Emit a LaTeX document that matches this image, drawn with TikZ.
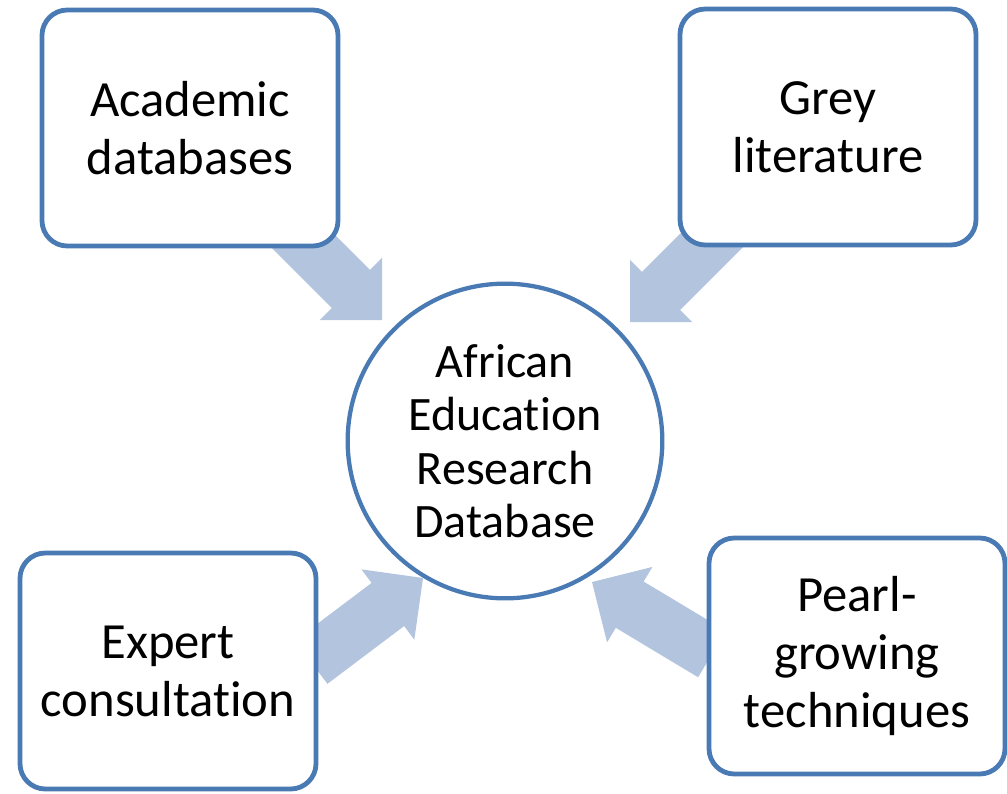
\documentclass[tikz,border=0pt]{standalone}
\usepackage{fontspec}
\setmainfont{Carlito}[Ligatures={NoCommon}]
\definecolor{boxblue}{RGB}{74,122,180}
\definecolor{arrowfill}{RGB}{179,196,223}
\begin{document}
\begin{tikzpicture}[x=0.75pt,y=-0.75pt,
  srcbox/.style={draw=boxblue,line width=3.6pt,fill=white,rounded corners=19pt,
    minimum width=222pt,minimum height=177pt,align=center,
    font=\fontsize{38}{43.5}\selectfont,inner sep=0pt},
  hub/.style={circle,draw=boxblue,line width=3.2pt,fill=white,minimum size=236pt,
    align=center,font=\fontsize{36}{40}\selectfont,inner sep=0pt},
  blockarrow/.style={fill=arrowfill}]
\useasboundingbox (0,0) rectangle (1007,793);
% arrow tips
\coordinate (tipA) at (382,320);
\coordinate (tipG) at (630,322);
\coordinate (tipE) at (423,578);
\coordinate (tipP) at (592,582);
\newcommand{\blockarr}[2]{%
  \begin{scope}[shift={(#1)},rotate=#2]
    \fill[blockarrow] (0,0) -- (-44,44) -- (-44,27) -- (-140,27) -- (-140,-27)
      -- (-44,-27) -- (-44,-44) -- cycle;
  \end{scope}}
\blockarr{tipA}{-45}
\blockarr{tipG}{-135}
\blockarr{tipE}{37}
\blockarr{tipP}{149}
\node[hub] (db) at (505,441) {African\\Education\\Research\\Database};
\node[srcbox] (acad) at (190,128) {Academic\\databases};
\node[srcbox] (grey) at (828,127) {Grey\\literature};
\node[srcbox] (expert) at (168,671) {Expert\\consultation};
\node[srcbox] (pearl) at (857,656) {Pearl-\\growing\\techniques};
\end{tikzpicture}
\end{document}
